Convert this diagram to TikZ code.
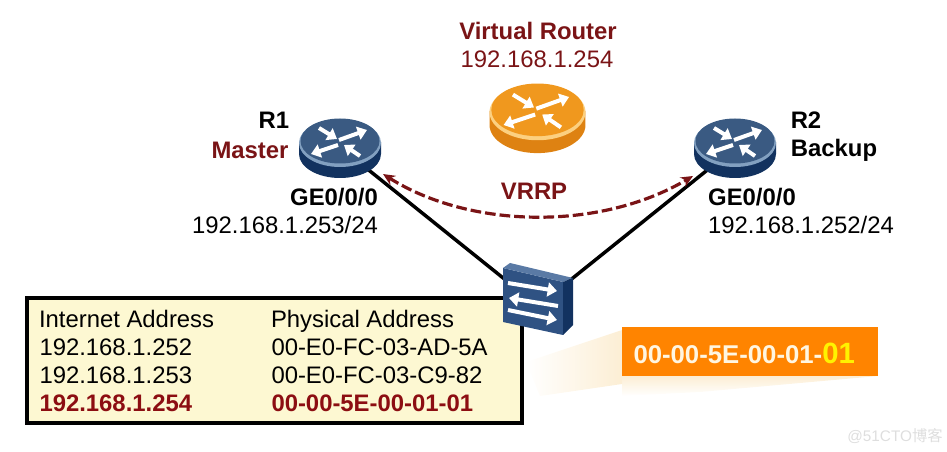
\documentclass[tikz,border=0pt]{standalone}
\usepackage{fontspec}
\setmainfont{Liberation Sans}
\newfontfamily\cjkwm{Noto Sans CJK SC}
\usetikzlibrary{arrows.meta,shapes.geometric,fadings}

\definecolor{darkred}{RGB}{122,20,22}
\definecolor{tablered}{RGB}{140,14,18}
\definecolor{tablefill}{RGB}{253,248,210}
\definecolor{boxorange}{RGB}{255,132,0}
\definecolor{fanpale}{RGB}{252,238,212}

\tikzset{every picture/.style={line width=0.75pt}}
\tikzset{
  lbl/.style={inner sep=0.75pt,font=\fontsize{17.9}{20}\selectfont},
  lblb/.style={lbl,font=\fontsize{17.9}{20}\selectfont\bfseries},
  iconarrow/.style={white,line width=3pt,-{Triangle[length=7pt,width=10pt]}},
  swarrow/.style={white,line width=3pt,-{Triangle[length=7pt,width=10.5pt]}},
}

% cx, cy, scale, top, rim, side
\newcommand{\routershape}[6]{
  \begin{scope}[shift={(#1,#2)},scale=#3]
    \fill [#6] (-41,0) -- (-41,12) arc (180:0:41 and 24) -- (41,0) -- cycle ;
    \fill [#5] (0,1) ellipse (41 and 24) ;
    \fill [#4] (0,-1) ellipse (39.5 and 22.5) ;
    \draw [iconarrow] (-1,-2) -- (27,-12) ;
    \draw [iconarrow] (-2,3) -- (-29,12) ;
    \draw [iconarrow] (-21,-14) -- (-3,-3) ;
    \draw [iconarrow] (20,14) -- (4,3) ;
  \end{scope}
}

\begin{document}
\begin{tikzpicture}[x=0.75pt,y=0.75pt,yscale=-1,xscale=1]
        \useasboundingbox (0,0) rectangle (947,452);
        \coordinate (r1) at (340,147);
        \coordinate (r2) at (736,147);
        \coordinate (sw) at (538,306);
        \coordinate (vrrpl) at (383,174);
        \coordinate (vrrpr) at (693,176);
        %Straight Lines
        \draw [line width=2.6pt] (r1) -- (sw) ;
        \draw [line width=2.6pt] (r2) -- (sw) ;
        %Curve Lines
        \draw [darkred,line width=2.4pt,dash pattern=on 8pt off 3pt,{Stealth[length=9pt,width=8pt]}-{Stealth[length=9pt,width=8pt]}] (vrrpl) .. controls (470,229) and (600,231) .. (vrrpr) ;
        %Shape: Routers
        \routershape{537.5}{111}{1.17}{fill={rgb,255:red,240;green,152;blue,30}}{fill={rgb,255:red,252;green,208;blue,128}}{fill={rgb,255:red,222;green,130;blue,18}}
        \routershape{340}{142}{1}{fill={rgb,255:red,58;green,90;blue,130}}{fill={rgb,255:red,130;green,160;blue,192}}{fill={rgb,255:red,18;green,50;blue,95}}
        \routershape{735}{142}{1}{fill={rgb,255:red,58;green,90;blue,130}}{fill={rgb,255:red,130;green,160;blue,192}}{fill={rgb,255:red,18;green,50;blue,95}}
        %Shape: Polygon, shadow of the callout
        \fill [fanpale,path fading=west] (526,362) -- (622,330) -- (622,384) -- (540,396) -- cycle ;
        \fill [fanpale,path fading=south] (622,376) -- (878,376) -- (700,392) -- (622,396) -- cycle ;
        %Shape: Rectangle
        \node (tablebox) [draw=black,line width=3pt,fill=tablefill,minimum width=371pt,minimum height=94pt,inner sep=0pt] at (274.5,360.5) {};
        \node (callout) [fill=boxorange,minimum width=192pt,minimum height=36.5pt,inner sep=0pt] at (750,351.5) {};
        %Shape: Switch
        \fill [fill={rgb,255:red,47;green,82;blue,131}] (503,268) -- (563,282) -- (563,335) -- (503,322) -- cycle ;
        \fill [fill={rgb,255:red,90;green,122;blue,165}] (503,268) -- (510,263) -- (573,278) -- (563,282) -- cycle ;
        \fill [fill={rgb,255:red,18;green,50;blue,96}] (563,282) -- (573,278) -- (573,325) -- (563,335) -- cycle ;
        \draw [swarrow] (508,283) -- (557,291) ;
        \draw [swarrow] (558,306) -- (509,298) ;
        \draw [swarrow] (508,310) -- (557,320) ;
        % Text Node
        \node (vrname) [lblb,text=darkred] at (538,31) {Virtual Router};
        % Text Node
        \node (vrip) [lbl,text=darkred] at (537,59) {192.168.1.254};
        % Text Node
        \node (r1name) [lblb] at (274,120) {R1};
        % Text Node
        \node (r1role) [lblb,text=darkred] at (250,150) {Master};
        % Text Node
        \node (r1port) [lblb] at (334,197) {GE0/0/0};
        % Text Node
        \node (r1ip) [lbl] at (285,225) {192.168.1.253/24};
        % Text Node
        \node (r2name) [lblb] at (806,120) {R2};
        % Text Node
        \node (r2role) [lblb] at (834,150) {Backup};
        % Text Node
        \node (r2port) [lblb] at (752,197) {GE0/0/0};
        % Text Node
        \node (r2ip) [lbl] at (801,225) {192.168.1.252/24};
        % Text Node
        \node (vrrplbl) [lblb,text=darkred] at (534,191) {VRRP};
        % Text Node
        \node (hdinet) [lbl,anchor=base west] at (37.5,328) {Internet Address};
        \node (hdphys) [lbl,anchor=base west] at (269.5,328) {Physical Address};
        \node (ipa) [lbl,anchor=base west] at (38,356) {192.168.1.252};
        \node (maca) [lbl,anchor=base west] at (270,356) {00-E0-FC-03-AD-5A};
        \node (ipb) [lbl,anchor=base west] at (38,384) {192.168.1.253};
        \node (macb) [lbl,anchor=base west] at (270,384) {00-E0-FC-03-C9-82};
        \node (ipc) [lblb,text=tablered,anchor=base west] at (38,412) {192.168.1.254};
        \node (macc) [lblb,text=tablered,anchor=base west] at (270,412) {00-00-5E-00-01-01};
        % Text Node
        \node (vmac) [inner sep=0.75pt,anchor=base west,text={rgb,255:red,255;green,246;blue,225},font=\fontsize{19.3}{22}\selectfont\bfseries] at (632,364) {00-00-5E-00-01-{\color{yellow}\fontsize{22}{22}\selectfont 01}};
        % Text Node
        \node (wmark) [inner sep=0.75pt,text={rgb,255:red,222;green,222;blue,222},font=\fontsize{11.5}{13}\selectfont] at (895,436) {@51CTO{\cjkwm 博客}};
\end{tikzpicture}
\end{document}
